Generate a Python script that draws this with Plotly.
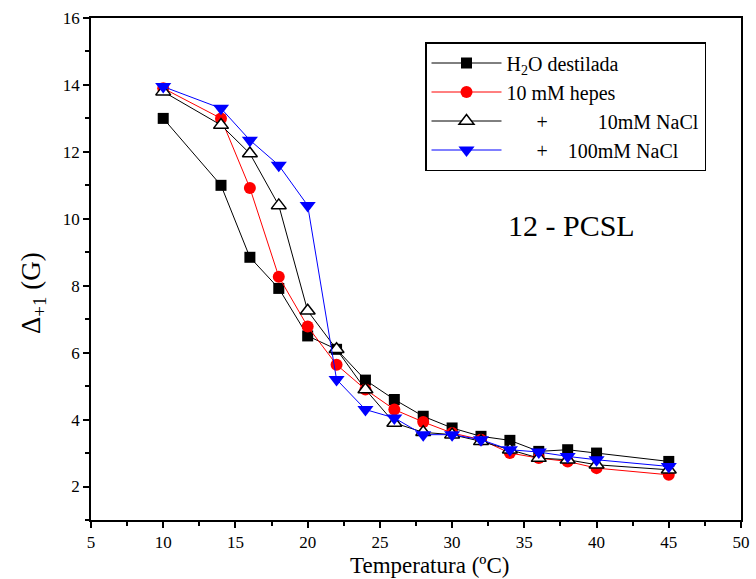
import plotly.graph_objects as go

temps = [10, 14, 16, 18, 20, 22, 24, 26, 28, 30, 32, 34, 36, 38, 40, 45]
h2o = [13.0, 11.0, 8.85, 7.92, 6.5, 6.1, 5.18, 4.6, 4.1, 3.75, 3.5, 3.38, 3.05, 3.1, 3.0, 2.75]
hepes = [13.9, 13.0, 10.92, 8.27, 6.78, 5.64, 4.9, 4.3, 3.93, 3.6, 3.4, 3.0, 2.85, 2.75, 2.55, 2.35]
nacl10 = [13.8, 12.8, 11.95, 10.4, 7.25, 6.1, 4.9, 3.9, 3.62, 3.55, 3.35, 3.1, 2.85, 2.8, 2.65, 2.5]
nacl100 = [13.95, 13.3, 12.35, 11.6, 10.4, 5.2, 4.3, 4.05, 3.55, 3.55, 3.4, 3.1, 3.03, 2.9, 2.8, 2.6]

NB = "\u00a0"
names = ["H<sub>2</sub>O destilada" + NB * 5, "10 mM hepes",
         NB * 6 + "+" + NB * 10 + "10mM NaCl",
         NB * 6 + "+" + NB * 4 + "100mM NaCl"]

FONT = "Liberation Serif"
fig = go.Figure()
fig.add_trace(go.Scatter(x=temps, y=h2o, name=names[0], mode="lines+markers",
                         line=dict(color="black", width=1),
                         marker=dict(symbol="square", size=11, color="black")))
fig.add_trace(go.Scatter(x=temps, y=hepes, name=names[1], mode="lines+markers",
                         line=dict(color="red", width=1),
                         marker=dict(symbol="circle", size=12, color="red")))
fig.add_trace(go.Scatter(x=temps, y=nacl10, name=names[2], mode="lines+markers",
                         line=dict(color="black", width=1),
                         marker=dict(symbol="triangle-up", size=13, color="white",
                                     line=dict(color="black", width=1.5))))
fig.add_trace(go.Scatter(x=temps, y=nacl100, name=names[3], mode="lines+markers",
                         line=dict(color="blue", width=1),
                         marker=dict(symbol="triangle-down", size=14, color="blue")))

axis_common = dict(showline=True, linecolor="black", linewidth=1.5, mirror=True,
                   ticks="outside", ticklen=6, tickwidth=1.5, tickcolor="black",
                   showgrid=False, zeroline=False, automargin=False,
                   tickfont=dict(family=FONT, size=17, color="black"))
fig.update_xaxes(range=[5, 50], dtick=5, tick0=5,
                 minor=dict(ticks="outside", ticklen=4, tickwidth=1.5, dtick=2.5, tickcolor="black"),
                 **axis_common)
fig.update_yaxes(range=[1, 16], dtick=2, tick0=0,
                 minor=dict(ticks="outside", ticklen=4, tickwidth=1.5, dtick=1, tickcolor="black"),
                 **axis_common)

# axis titles (placed as annotations to match the reference's offsets)
fig.add_annotation(x=(429 - 91) / 650, y=-(579 - 520) / 502, xref="paper", yref="paper",
                   text="Temperatura (ºC)", showarrow=False, borderpad=0,
                   xanchor="center", yanchor="bottom",
                   font=dict(family=FONT, size=23, color="black"))
fig.add_annotation(x=-(91 - 33) / 650, y=1 - (293 - 18) / 502, xref="paper", yref="paper",
                   text="Δ<sub>+1</sub> (G)", showarrow=False, textangle=-90,
                   xanchor="center", yanchor="middle",
                   font=dict(family=FONT, size=27, color="black"))

fig.add_annotation(x=(571 - 91) / 650, y=1 - (225 - 18) / 502, xref="paper", yref="paper",
                   text="12 - PCSL", showarrow=False, xanchor="center", yanchor="middle",
                   font=dict(family=FONT, size=30, color="black"))

fig.update_layout(
    width=756, height=579,
    margin=dict(l=91, r=15, t=18, b=59, autoexpand=False),
    paper_bgcolor="white", plot_bgcolor="white",
    legend=dict(x=(425 - 91) / 650, y=1 - (42 - 18) / 502, xanchor="left", yanchor="top",
                bordercolor="black", borderwidth=1.5, bgcolor="white",
                font=dict(family=FONT, size=20, color="black"),
                itemwidth=70, tracegroupgap=0),
    showlegend=True,
)

fig.write_html("out.html")
